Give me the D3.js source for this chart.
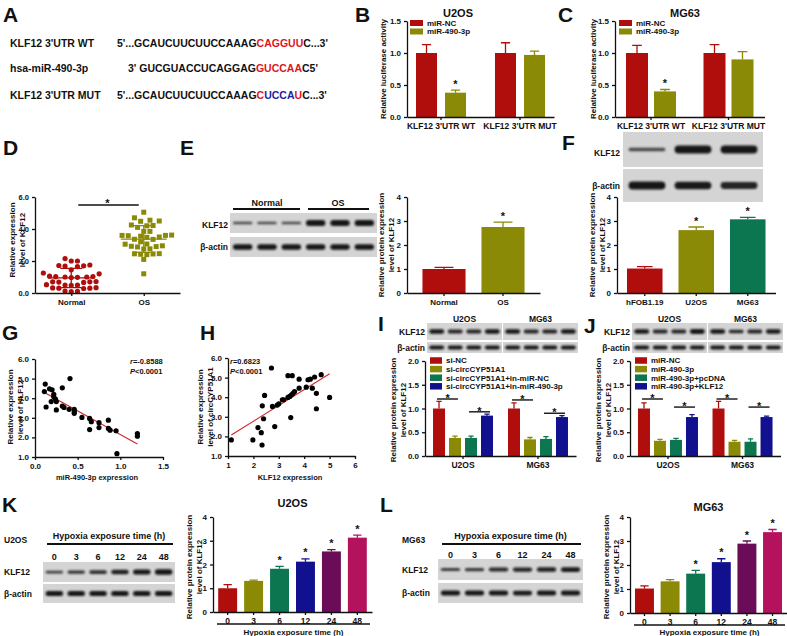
<!DOCTYPE html>
<html><head><meta charset="utf-8">
<script src="https://cdnjs.cloudflare.com/ajax/libs/d3/7.8.5/d3.min.js"></script>
<style>body{margin:0;background:#fff}svg{display:block}</style>
</head><body><svg id="c" width="787" height="636"></svg>
<script>
// ---------------- DATA ----------------
const colRed="#b00d0d", colOlive="#8b8a06", colGreen="#0c7650", colBlue="#11118f", colPurple="#6a0c58", colPink="#b5125d";

// A: sequences
const seqLabels=["KLF12 3'UTR WT","hsa-miR-490-3p","KLF12 3'UTR MUT"];
const seqParts=[
 [["5'...GCAUCUUCUUCCAAAG","k"],["CAGGUU","r"],["C...3'","k"]],
 [["3' GUCGUACCUCAGGAG","k"],["GUCCAA","r"],["C5'","k"]],
 [["5'...GCAUCUUCUUCCAAAG","k"],["C","r"],["UCCA","b"],["U","r"],["C...3'","k"]]
];
// B, C: luciferase
const lucGroups=["KLF12 3'UTR WT","KLF12 3'UTR MUT"];
const lucSeries=["miR-NC","miR-490-3p"];
const lucU2OS=[[1.00,0.38],[1.00,0.97]];
const lucU2OSErr=[[0.13,0.04],[0.16,0.06]];
const lucMG63=[[1.00,0.40],[1.00,0.90]];
const lucMG63Err=[[0.12,0.03],[0.13,0.12]];
const lucSig=[[0,1],[0,0]];
// D: scatter of tissues
const dGroups=["Normal","OS"];
const dNormal=[2.0,2.15,2.0,1.75,1.7,1.72,1.68,1.65,1.45,1.2,1.25,1.0,1.02,0.98,1.05,1.0,0.97,1.03,0.7,0.72,0.68,0.7,0.66,0.5,0.52,0.48,0.5,0.3,0.32,0.28,0.3,0.33,0.1,0.12,0.08];
const dOS=[5.05,4.7,4.55,4.5,4.48,4.25,4.2,4.22,4.1,3.85,3.85,3.6,3.55,3.62,3.58,3.6,3.5,3.48,3.35,3.36,3.2,3.05,3.06,2.9,2.92,2.88,2.95,2.75,2.76,2.45,2.46,2.4,2.44,2.42,2.1,1.2];
// E
const eGroups=["Normal","OS"];
const eVals=[[1.0],[2.75]], eErr=[[0.07],[0.2]], eSig=[[0],[1]];
const eBlotKLF=[0.45,0.45,0.45,1,1,1], eBlotAct=[1,1,1,1,1,1];
// F
const fGroups=["hFOB1.19","U2OS","MG63"];
const fVals=[[1.02],[2.62],[3.07]], fErr=[[0.08],[0.13],[0.08]], fSig=[[0],[1],[1]];
const fBlotKLF=[0.45,1,1], fBlotAct=[1,0.95,0.85];
// G: miR-490-3p vs KLF12
const gX=[0.12,0.11,0.13,0.17,0.20,0.22,0.22,0.24,0.19,0.25,0.25,0.32,0.32,0.34,0.40,0.41,0.46,0.46,0.46,0.55,0.64,0.64,0.66,0.75,0.75,0.86,0.86,0.88,0.95,0.96,1.20,1.20];
const gY=[4.72,4.34,3.55,4.48,4.43,4.20,4.08,3.96,3.83,3.40,3.83,4.53,3.60,3.53,3.43,5.00,3.43,3.23,3.31,3.02,2.97,2.40,2.80,2.75,2.50,2.88,2.46,2.37,2.34,1.17,2.20,2.06];
// H: KLF12 vs circCYP51A1
const hX=[1.13,1.98,2.18,2.31,2.34,2.35,2.40,2.44,2.71,2.75,2.84,2.94,3.00,3.14,3.19,3.36,3.36,3.43,3.50,3.47,3.53,3.56,3.62,3.80,3.80,4.08,4.15,4.24,4.32,4.41,4.48,4.48,4.67,5.00];
const hY=[1.82,1.82,2.45,2.19,1.56,3.56,2.90,4.09,5.49,3.53,2.50,3.60,3.66,3.87,3.87,5.10,3.99,4.04,4.12,2.96,5.10,4.20,4.29,4.92,4.46,4.51,4.89,4.92,4.46,5.03,4.20,3.41,5.15,3.99];
const gStat=["r=-0.8588","P<0.0001"], hStat=["r=0.6823","P<0.0001"];
// I, J
const cellGroups=["U2OS","MG63"];
const iSeries=["si-NC","si-circCYP51A1","si-circCYP51A1+in-miR-NC","si-circCYP51A1+in-miR-490-3p"];
const iVals=[[1.0,0.38,0.38,0.85],[1.0,0.35,0.36,0.82]];
const iErr=[[0.15,0.04,0.04,0.03],[0.12,0.04,0.05,0.03]];
const iSigLevels=[[1.2,0.93],[1.18,0.9]];
const iBlotKLF=[[1,0.85,0.85,1.05],[1,0.85,0.9,1]], iBlotAct=[[1,1,1,1],[1,1,1,1]];
const jSeries=["miR-NC","miR-490-3p","miR-490-3p+pcDNA","miR-490-3p+KLF12"];
const jVals=[[1.0,0.32,0.34,0.82],[1.0,0.30,0.30,0.82]];
const jErr=[[0.12,0.03,0.03,0.05],[0.15,0.03,0.06,0.02]];
const jSigLevels=[[1.2,1.03],[1.2,1.03]];
const jBlotKLF=[[1,0.85,0.85,1.1],[1,0.8,0.85,0.95]], jBlotAct=[[1,1,1,1],[1,1,1,1]];
// K, L
const times=["0","3","6","12","24","48"];
const kVals=[1.0,1.31,1.82,2.12,2.55,3.13], kErr=[0.15,0.03,0.1,0.12,0.08,0.11], kSig=[0,0,1,1,1,1];
const lVals=[1.02,1.32,1.64,2.12,2.89,3.37], lErr=[0.11,0.07,0.14,0.14,0.11,0.11], lSig=[0,0,1,1,1,1];
const kBlotKLF=[0.55,0.65,0.75,0.9,1.0,1.1], kBlotAct=[1,1,1,1,1,1];
const lBlotKLF=[0.6,0.65,0.8,0.85,0.9,0.95], lBlotAct=[1,1,1,0.95,1,1];

// ---------------- DRAW ----------------
const FONT="'Liberation Sans', Arial, Helvetica, sans-serif";
const INK="#111";
const svg=d3.select("#c");
svg.append("rect").attr("width",787).attr("height",636).attr("fill","#fff");
const defs=svg.append("defs");
defs.append("filter").attr("id","blur").attr("x","-30%").attr("y","-100%").attr("width","160%").attr("height","300%")
  .append("feGaussianBlur").attr("stdDeviation",0.8);

function T(x,y,s,fs,anchor,fill){
  return svg.append("text").attr("x",x).attr("y",y).attr("font-size",fs).attr("text-anchor",anchor||"start")
    .attr("font-family",FONT).attr("font-weight","bold").attr("fill",fill||INK).text(s);
}
function VL(cx,cy,lines,fs){
  lines.forEach((l,i)=>{
    svg.append("text").attr("transform",`translate(${cx+i*(fs+2.4)+3},${cy}) rotate(-90)`)
      .attr("text-anchor","middle").attr("font-size",fs).attr("font-family",FONT).attr("font-weight","bold").attr("fill",INK).text(l);
  });
}
function styleAxis(g,fs){
  g.selectAll(".domain").attr("stroke",INK).attr("stroke-width",1.3);
  g.selectAll(".tick line").attr("stroke",INK).attr("stroke-width",1.3);
  g.selectAll(".tick text").attr("font-size",fs||8).attr("font-weight","bold").attr("fill",INK).attr("font-family",FONT);
}
function star(x,y,fs){ return T(x,y,"*",fs||11,"middle"); }

function barChart(c){
  const g=svg.append("g");
  const x=d3.scaleBand().domain(c.groups).range([c.x0,c.x1]).paddingInner(c.pi).paddingOuter(c.po);
  const xs=d3.scaleBand().domain(c.series).range([0,x.bandwidth()]).paddingInner(c.si||0);
  const y=d3.scaleLinear().domain([0,c.yMax]).range([c.y0,c.y1]);
  const bars=[];
  c.groups.forEach((gr,gi)=>c.series.forEach((s,si)=>{
    bars.push({gi,si,gr,s,v:c.values[gi][si],e:c.errs[gi][si],sig:c.sig?c.sig[gi][si]:0,col:c.color(gi,si),
      x:x(gr)+xs(s),w:xs.bandwidth()});
  }));
  g.selectAll(".eb").data(bars).join("path").attr("fill","none").attr("stroke",b=>b.col).attr("stroke-width",1.3)
    .attr("d",b=>{const cx=b.x+b.w/2,cw=Math.max(2.5,b.w*0.22),t=y(b.v+b.e);return `M${cx},${y(b.v)}V${t}M${cx-cw},${t}H${cx+cw}`;});
  g.selectAll(".bar").data(bars).join("rect").attr("x",b=>b.x).attr("y",b=>y(b.v)).attr("width",b=>b.w)
    .attr("height",b=>c.y0-y(b.v)).attr("fill",b=>b.col);
  bars.filter(b=>b.sig).forEach(b=>star(b.x+b.w/2,y(b.v+b.e)-2.5));
  const ya=svg.append("g").attr("transform",`translate(${c.x0},0)`)
    .call(d3.axisLeft(y).tickValues(c.ticks).tickFormat(c.fmt).tickSize(3).tickSizeOuter(0));
  styleAxis(ya,c.fsY||8);
  const xa=svg.append("g").attr("transform",`translate(0,${c.y0})`)
    .call(d3.axisBottom(x).tickSize(3).tickSizeOuter(0));
  styleAxis(xa,c.fsX||8);
  return {x,xs,y,bars};
}
function legend(x,y0,dy,labels,cols,fs,sw,sh){
  labels.forEach((l,i)=>{
    svg.append("rect").attr("x",x).attr("y",y0+i*dy-sh/2).attr("width",sw).attr("height",sh).attr("fill",cols[i]);
    T(x+sw+4,y0+i*dy+fs*0.36,l,fs);
  });
}
function blot(x,y,w,h,lanes,bandH){
  svg.append("rect").attr("x",x).attr("y",y).attr("width",w).attr("height",h).attr("fill","#d4d4d4");
  const xl=d3.scaleBand().domain(d3.range(lanes.length)).range([x,x+w]).paddingInner(0.2).paddingOuter(0.12);
  svg.append("g").selectAll("rect").data(lanes).join("rect")
    .attr("x",(d,i)=>xl(i)).attr("width",xl.bandwidth())
    .attr("y",d=>y+h/2-bandH*d/2).attr("height",d=>bandH*d).attr("rx",d=>bandH*d/2)
    .attr("fill","#151515").attr("opacity",d=>Math.min(1,0.5+0.5*d)).attr("filter","url(#blur)");
  return xl;
}

// Panel letters
[["A",3,22],["B",355,22],["C",558,22],["D",3,155],["E",180,155],["F",562,150],["G",2,340],["H",200,340],["I",378,331],["J",584,333],["K",2,512],["L",380,512]]
  .forEach(d=>T(d[1],d[2],d[0],21));

// ---- A ----
const seqCol={k:INK,r:"#e0141e",b:"#1e1ea0"};
const seqY=[47,72,99], seqX=[117,128,117];
seqLabels.forEach((l,i)=>{
  T(10,seqY[i],l,10.5);
  const t=T(seqX[i],seqY[i],"",10.5);
  seqParts[i].forEach(p=>t.append("tspan").attr("fill",seqCol[p[1]]).text(p[0]));
});

// ---- B ----
barChart({groups:lucGroups,series:lucSeries,values:lucU2OS,errs:lucU2OSErr,sig:lucSig,
  x0:407,x1:554,pi:0.367,po:0.114,si:0.276,y0:117,y1:21,yMax:1.5,ticks:[0,0.5,1,1.5],fmt:d3.format(".1f"),
  color:(gi,si)=>[colRed,colOlive][si],fsX:8.5});
T(458,17,"U2OS",11,"middle");
VL(383,69,["Relative luciferase activity"],8);
legend(410,23,8.5,lucSeries,[colRed,colOlive],8,13,6);

// ---- C ----
barChart({groups:lucGroups,series:lucSeries,values:lucMG63,errs:lucMG63Err,sig:lucSig,
  x0:615,x1:764.5,pi:0.355,po:0.142,si:0.214,y0:117,y1:21,yMax:1.5,ticks:[0,0.5,1,1.5],fmt:d3.format(".1f"),
  color:(gi,si)=>[colRed,colOlive][si],fsX:8.5});
T(685,17,"MG63",11,"middle");
VL(593,69,["Relative luciferase activity"],8);
legend(619,23,8.5,lucSeries,[colRed,colOlive],8,13,6);

// ---- D ----
(function(){
  const x=d3.scalePoint().domain(dGroups).range([35,180]).padding(0.5);
  const y=d3.scaleLinear().domain([0,6]).range([293,197]);
  const sets=[{vals:dNormal,col:colRed,shape:"c"},{vals:dOS,col:colOlive,shape:"s"}];
  sets.forEach((s,k)=>{
    const cx=x(dGroups[k]);
    // deterministic beeswarm layout
    const placed=[];
    s.vals.map(v=>({v,py:y(v)})).sort((a,b)=>a.v-b.v).forEach(p=>{
      const step=6.2;
      for(let n=0;n<40;n++){
        const off=(n%2?1:-1)*Math.ceil(n/2)*step*0.5;
        const px=cx+off;
        if(placed.every(q=>Math.hypot(q.px-px,q.py-p.py)>=5.6)){p.px=px;placed.push(p);break;}
      }
    });
    const g=svg.append("g");
    if(s.shape==="c") g.selectAll("circle").data(placed).join("circle").attr("cx",d=>d.px).attr("cy",d=>d.py).attr("r",2.6).attr("fill",s.col);
    else g.selectAll("rect").data(placed).join("rect").attr("x",d=>d.px-2.5).attr("y",d=>d.py-2.5).attr("width",5).attr("height",5).attr("fill",s.col);
    const m=d3.mean(s.vals), sd=d3.deviation(s.vals);
    svg.append("path").attr("fill","none").attr("stroke",s.col).attr("stroke-width",1.3)
      .attr("d",`M${cx-23},${y(m)}H${cx+23}M${cx},${y(m-sd)}V${y(m+sd)}M${cx-11},${y(m-sd)}H${cx+11}M${cx-11},${y(m+sd)}H${cx+11}`);
  });
  const ya=svg.append("g").attr("transform","translate(35,0)").call(d3.axisLeft(y).tickValues([0,2,4,6]).tickSize(3).tickSizeOuter(0));
  styleAxis(ya,7.5);
  const xa=svg.append("g").attr("transform","translate(0,293)").call(d3.axisBottom(x).tickSize(3).tickSizeOuter(0));
  styleAxis(xa,8);
  svg.append("line").attr("x1",x("Normal")+7).attr("x2",x("OS")-5).attr("y1",y(5.5)).attr("y2",y(5.5)).attr("stroke",INK).attr("stroke-width",1.5);
  star((x("Normal")+x("OS"))/2,y(5.5)+2);
  VL(12,240,["Relative expression","level of KLF12"],8);
})();

// ---- E ----
(function(){
  blot(230,213,147,20,eBlotKLF,6);
  blot(230,237,147,20,eBlotAct,5.5);
  T(228,228,"KLF12",8.5,"end"); T(228,250,"β-actin",8.5,"end");
  T(267,206,"Normal",9,"middle"); T(338,206,"OS",9,"middle");
  svg.append("path").attr("stroke",INK).attr("stroke-width",2).attr("d","M233,209H300M308,209H369");
  barChart({groups:eGroups,series:["v"],values:eVals,errs:eErr,sig:eSig,x0:407,x1:540,pi:0.27,po:0.262,
    y0:293,y1:197,yMax:4,ticks:[0,1,2,3,4],fmt:d3.format("d"),color:gi=>[colRed,colOlive][gi]});
  VL(381,245,["Relative protein expression","level of KLF12"],8);
})();

// ---- F ----
(function(){
  blot(623,132,140,35,fBlotKLF,8);
  blot(623,169,140,33,fBlotAct,8);
  T(620,156,"KLF12",8.5,"end"); T(620,189,"β-actin",8.5,"end");
  barChart({groups:fGroups,series:["v"],values:fVals,errs:fErr,sig:fSig,x0:617,x1:775.5,pi:0.31,po:0.194,
    y0:293,y1:197,yMax:4,ticks:[0,1,2,3,4],fmt:d3.format("d"),color:gi=>[colRed,colOlive,colGreen][gi]});
  VL(592,245,["Relative protein expression","level of KLF12"],8);
})();

// ---- scatter helper ----
function scatter(c){
  const x=d3.scaleLinear().domain(c.xd).range(c.xr), y=d3.scaleLinear().domain(c.yd).range(c.yr);
  const mx=d3.mean(c.xs), my=d3.mean(c.ys);
  const b=d3.sum(c.xs,(v,i)=>(v-mx)*(c.ys[i]-my))/d3.sum(c.xs,v=>(v-mx)*(v-mx)), a=my-b*mx;
  const [x1,x2]=d3.extent(c.xs);
  svg.append("line").attr("x1",x(x1)).attr("x2",x(x2)).attr("y1",y(a+b*x1)).attr("y2",y(a+b*x2)).attr("stroke","#d42a2a").attr("stroke-width",1.2);
  svg.append("g").selectAll("circle").data(c.xs).join("circle").attr("cx",d=>x(d)).attr("cy",(d,i)=>y(c.ys[i])).attr("r",2.6).attr("fill","#000");
  const ya=svg.append("g").attr("transform",`translate(${c.xr[0]},0)`).call(d3.axisLeft(y).tickValues(c.yt).tickSize(3).tickSizeOuter(0));
  styleAxis(ya,8);
  const xa=svg.append("g").attr("transform",`translate(0,${c.yr[0]})`).call(d3.axisBottom(x).tickValues(c.xt).tickFormat(c.xf).tickSize(3).tickSizeOuter(0));
  styleAxis(xa,8);
  c.stat.forEach((s,i)=>{
    const t=T(c.sx,c.sy+i*9.5,"",7.5);
    t.append("tspan").attr("font-style","italic").text(s[0]);
    t.append("tspan").text(s.slice(1));
  });
}
scatter({xs:gX,ys:gY,xd:[0,1.5],xr:[35,163],yd:[1,6],yr:[457,359],xt:[0,0.5,1,1.5],xf:d3.format(".1f"),yt:[1,2,3,4,5,6],
  stat:gStat,sx:130,sy:364});
T(97,480,"miR-490-3p expression",7.5,"middle");
VL(10,407,["Relative expression","level of KLF12"],8);
scatter({xs:hX,ys:hY,xd:[1,6],xr:[228,355],yd:[1,6],yr:[456,358],xt:[1,2,3,4,5,6],xf:d3.format("d"),yt:[1,2,3,4,5,6],
  stat:hStat,sx:230,sy:364});
T(290,480,"KLF12 expression",7.5,"middle");
VL(200,407,["Relative expression","level of circCYP51A1"],8);

// ---- I, J ----
function knock(c){
  const bx=[c.bx0,c.bx0+76];
  cellGroups.forEach((gname,k)=>{
    blot(bx[k],323,75,17,c.klf[k],4.5);
    blot(bx[k],342,75,11,c.act[k],4);
    T(bx[k]+37.5,322,gname,8.5,"middle");
  });
  T(c.bx0-2,335,"KLF12",8.5,"end"); T(c.bx0-2,351,"β-actin",8.5,"end");
  const cols=[colRed,colOlive,colGreen,colBlue];
  const ch=barChart({groups:cellGroups,series:c.series,values:c.vals,errs:c.errs,x0:c.x0,x1:c.x1,pi:c.pi,po:0.107,si:0.25,
    y0:456,y1:361,yMax:2,ticks:[0,0.5,1,1.5,2],fmt:d3.format(".1f"),color:(gi,si)=>cols[si],fsX:8.5});
  cellGroups.forEach((gname,gi)=>{
    const bs=ch.bars.filter(b=>b.gi===gi);
    [[0,1],[2,3]].forEach((pr,j)=>{
      const yl=ch.y(c.sig[gi][j]);
      const xa=bs[pr[0]].x+bs[pr[0]].w/2-2, xb=bs[pr[1]].x+bs[pr[1]].w/2+3;
      svg.append("line").attr("x1",xa).attr("x2",xb).attr("y1",yl).attr("y2",yl).attr("stroke",INK).attr("stroke-width",1.4);
      star((xa+xb)/2,yl+3);
    });
  });
  legend(c.x0+5,360.5,8.6,c.series,cols,8,12,6.5);
  VL(c.x0-32,410,["Relative protein expression","level of KLF12"],8);
}
knock({bx0:427,x0:425,x1:576,pi:0.2,series:iSeries,vals:iVals,errs:iErr,sig:iSigLevels,klf:iBlotKLF,act:iBlotAct});
knock({bx0:632,x0:630,x1:780.5,pi:0.195,series:jSeries,vals:jVals,errs:jErr,sig:jSigLevels,klf:jBlotKLF,act:jBlotAct});

// ---- K, L ----
function hypoxia(c){
  const xl=blot(c.bx,c.ky,c.bw,c.kh,c.klf,5);
  blot(c.bx,c.ay,c.bw,c.ah,c.act,5);
  T(c.lx,543,c.cell,8.5); T(c.lx,c.ky+c.kh/2+3,"KLF12",8.5); T(c.lx,c.ay+c.ah/2+3,"β-actin",8.5);
  T(c.bx+c.bw/2,539,"Hypoxia exposure time (h)",9,"middle");
  svg.append("line").attr("x1",c.bx+4).attr("x2",c.bx+c.bw-2).attr("y1",544).attr("y2",544).attr("stroke",INK).attr("stroke-width",2);
  times.forEach((t,i)=>T(xl(i)+xl.bandwidth()/2,c.ty,t,9,"middle"));
  const cols=[colRed,colOlive,colGreen,colBlue,colPurple,colPink];
  barChart({groups:times,series:["v"],values:c.vals.map(v=>[v]),errs:c.errs.map(v=>[v]),sig:c.sig.map(v=>[v]),
    x0:c.x0,x1:c.x1,pi:c.pi,po:c.po,y0:c.y0,y1:c.y1,yMax:4,ticks:[0,1,2,3,4],fmt:d3.format("d"),color:gi=>cols[gi],fsX:8.5});
  T((c.x0+c.x1)/2,c.titleY,c.cell,11,"middle");
  svg.append("line").attr("x1",c.x0+4).attr("x2",c.x1-2).attr("y1",c.y0+12).attr("y2",c.y0+12).attr("stroke",INK).attr("stroke-width",1.6);
  T((c.x0+c.x1)/2+1,635,"Hypoxia exposure time (h)",8,"middle");
  VL(c.x0-24,567,["Relative protein expression","level of KLF12"],8);
}
hypoxia({cell:"U2OS",bx:43,bw:132,ky:562,kh:20,ay:584,ah:19,lx:4,ty:560,klf:kBlotKLF,act:kBlotAct,
  vals:kVals,errs:kErr,sig:kSig,x0:213,x1:372,pi:0.27,po:0.2,y0:612,y1:517,titleY:507});
hypoxia({cell:"MG63",bx:438,bw:145,ky:559,kh:21,ay:583,ah:20,lx:402,ty:558,klf:lBlotKLF,act:lBlotAct,
  vals:lVals,errs:lErr,sig:lSig,x0:630,x1:787,pi:0.26,po:0.195,y0:613,y1:517,titleY:511});
</script></body></html>
